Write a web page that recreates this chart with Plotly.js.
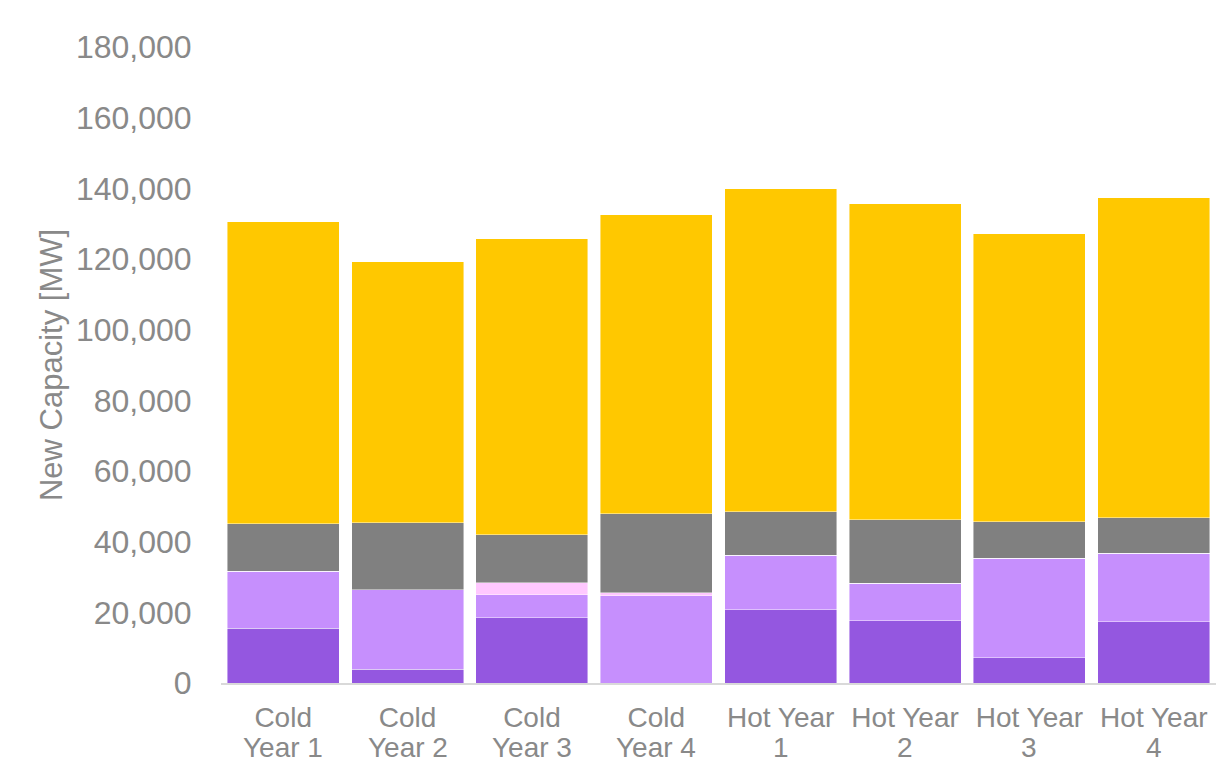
<!DOCTYPE html>
<html>
<head>
<meta charset="utf-8">
<script src="https://cdn.plot.ly/plotly-3.0.1.min.js"></script>
<style>
html,body{margin:0;padding:0;background:#fff;}
#chart{width:1222px;height:763px;}
</style>
</head>
<body>
<div id="chart"></div>
<script>
const categories = ["Cold Year 1","Cold Year 2","Cold Year 3","Cold Year 4","Hot Year 1","Hot Year 2","Hot Year 3","Hot Year 4"];
const labelLine1 = ["Cold","Cold","Cold","Cold","Hot Year","Hot Year","Hot Year","Hot Year"];
const labelLine2 = ["Year 1","Year 2","Year 3","Year 4","1","2","3","4"];
const seriesNames = ["Storage A","Storage B","Demand Response","Thermal","Solar"];
const storageA = [15460, 3870, 18450, 0, 20710, 17610, 7150, 17320];
const storageB = [16190, 22500, 6500, 24670, 15460, 10650, 28090, 19420];
const demandResponse = [0, 0, 3400, 850, 0, 0, 0, 0];
const thermal = [13370, 19030, 13560, 22440, 12240, 17890, 10340, 9970];
const solar = [85540, 73860, 83850, 84580, 91480, 89500, 81590, 90630];
const colors = ["#9457E0","#C68FFD","#FFC8FF","#808080","#FFC800"];
const yTicks = [0,20000,40000,60000,80000,100000,120000,140000,160000,180000];

const seriesValues = [storageA, storageB, demandResponse, thermal, solar];
const traces = seriesValues.map((vals, i) => ({
  type: "bar",
  name: seriesNames[i],
  x: categories,
  y: vals,
  marker: {color: colors[i], line: {color: "rgba(255,255,255,0.55)", width: 0.8}},
  hoverinfo: "skip"
}));

const line2Annotations = categories.map((c, i) => ({
  xref: "x", yref: "paper",
  x: c, y: -0.102,
  xanchor: "center", yanchor: "middle",
  text: labelLine2[i],
  showarrow: false,
  borderpad: 0,
  font: {size: 28, color: "#898989"}
}));

const layout = {
  width: 1222, height: 763,
  barmode: "stack",
  bargap: 0.1,
  showlegend: false,
  paper_bgcolor: "#fff",
  plot_bgcolor: "#fff",
  margin: {l: 221, r: 6, t: 47, b: 80, pad: 0},
  font: {family: "Liberation Sans, Arial, sans-serif", color: "#898989"},
  xaxis: {
    type: "category",
    range: [-0.5, categories.length - 0.5],
    tickmode: "array",
    tickvals: categories,
    ticktext: labelLine1,
    showgrid: false,
    showline: true,
    linecolor: "#d9d9d9",
    linewidth: 2,
    ticks: "outside",
    ticklen: 8,
    tickcolor: "rgba(0,0,0,0)",
    tickfont: {size: 28, color: "#898989"},
    automargin: false
  },
  yaxis: {
    range: [0, 180000],
    tickvals: yTicks,
    tickformat: ",d",
    showgrid: false,
    zeroline: false,
    showline: false,
    ticks: "outside",
    ticklen: 22,
    tickcolor: "rgba(0,0,0,0)",
    tickfont: {size: 32, color: "#898989"},
    title: {text: "New Capacity [MW]", font: {size: 31, color: "#898989"}, standoff: 4},
    automargin: false
  },
  annotations: line2Annotations
};

Plotly.newPlot("chart", traces, layout, {displayModeBar: false, staticPlot: true});
</script>
</body>
</html>
